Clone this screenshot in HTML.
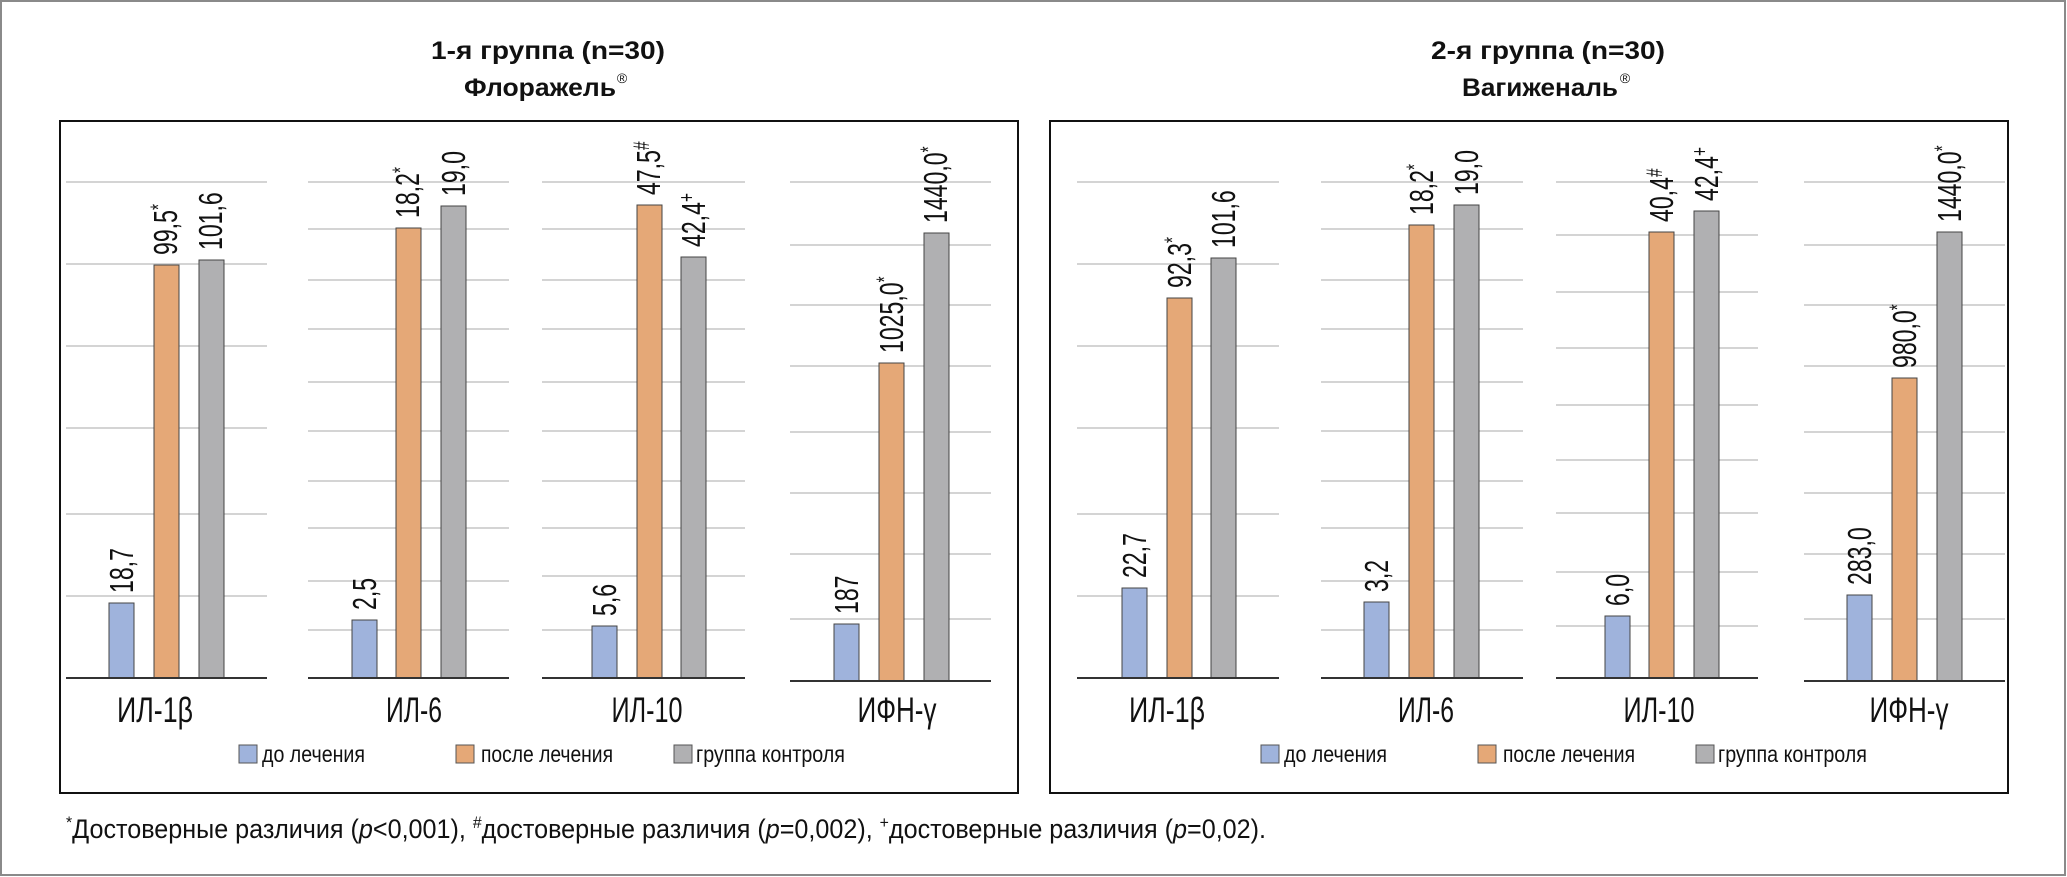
<!DOCTYPE html>
<html><head><meta charset="utf-8"><style>html,body{margin:0;padding:0;background:#fff}svg{display:block}</style></head><body>
<svg width="2067" height="877" viewBox="0 0 2067 877" xmlns="http://www.w3.org/2000/svg" font-family="'Liberation Sans', sans-serif">
<rect x="1" y="1" width="2064" height="874" fill="#fff" stroke="#8a8a8a" stroke-width="2"/>
<g font-weight="bold" font-size="25" fill="#111" text-anchor="middle">
<text x="548" y="59" textLength="234" lengthAdjust="spacingAndGlyphs">1-я группа (n=30)</text>
<text x="540" y="96" textLength="152" lengthAdjust="spacingAndGlyphs">Флоражель</text><text x="622" y="83" font-size="14" font-weight="normal">®</text>
<text x="1548" y="59" textLength="234" lengthAdjust="spacingAndGlyphs">2-я группа (n=30)</text>
<text x="1540" y="96" textLength="156" lengthAdjust="spacingAndGlyphs">Вагиженаль</text><text x="1625" y="83" font-size="14" font-weight="normal">®</text>
</g>
<rect x="60" y="121" width="958" height="672" fill="none" stroke="#111" stroke-width="2"/>
<rect x="1050" y="121" width="958" height="672" fill="none" stroke="#111" stroke-width="2"/>
<g stroke="#d4d4d4" stroke-width="2">
<path d="M66 182H267M66 264H267M66 346H267M66 428H267M66 514H267M66 596H267"/>
<path d="M308 182H509M308 229H509M308 280H509M308 329H509M308 382H509M308 431H509M308 481H509M308 528H509M308 581H509M308 630H509"/>
<path d="M542 182H745M542 229H745M542 280H745M542 329H745M542 382H745M542 431H745M542 481H745M542 528H745M542 576H745M542 630H745"/>
<path d="M790 182H991M790 245H991M790 305H991M790 366H991M790 432H991M790 493H991M790 554H991M790 619H991"/>
<path d="M1077 182H1279M1077 264H1279M1077 346H1279M1077 428H1279M1077 514H1279M1077 596H1279"/>
<path d="M1321 182H1523M1321 229H1523M1321 280H1523M1321 329H1523M1321 382H1523M1321 431H1523M1321 481H1523M1321 528H1523M1321 581H1523M1321 630H1523"/>
<path d="M1556 182H1758M1556 235H1758M1556 292H1758M1556 348H1758M1556 405H1758M1556 460H1758M1556 513H1758M1556 572H1758M1556 626H1758"/>
<path d="M1804 182H2005M1804 245H2005M1804 305H2005M1804 366H2005M1804 432H2005M1804 493H2005M1804 554H2005M1804 619H2005"/>
</g>
<g stroke="#444" stroke-width="1">
<g fill="#9fb3dc">
<rect x="109" y="603" width="25" height="75"/><rect x="352" y="620" width="25" height="58"/><rect x="592" y="626" width="25" height="52"/><rect x="834" y="624" width="25" height="57"/>
<rect x="1122" y="588" width="25" height="90"/><rect x="1364" y="602" width="25" height="76"/><rect x="1605" y="616" width="25" height="62"/><rect x="1847" y="595" width="25" height="86"/>
</g>
<g fill="#e5a877">
<rect x="154" y="265" width="25" height="413"/><rect x="396" y="228" width="25" height="450"/><rect x="637" y="205" width="25" height="473"/><rect x="879" y="363" width="25" height="318"/>
<rect x="1167" y="298" width="25" height="380"/><rect x="1409" y="225" width="25" height="453"/><rect x="1649" y="232" width="25" height="446"/><rect x="1892" y="378" width="25" height="303"/>
</g>
<g fill="#b0b0b2">
<rect x="199" y="260" width="25" height="418"/><rect x="441" y="206" width="25" height="472"/><rect x="681" y="257" width="25" height="421"/><rect x="924" y="233" width="25" height="448"/>
<rect x="1211" y="258" width="25" height="420"/><rect x="1454" y="205" width="25" height="473"/><rect x="1694" y="211" width="25" height="467"/><rect x="1937" y="232" width="25" height="449"/>
</g>
</g>
<g stroke="#333" stroke-width="2">
<path d="M66 678H267M308 678H509M542 678H745M790 681H991M1077 678H1279M1321 678H1523M1556 678H1758M1804 681H2005"/>
</g>
<g font-size="33" fill="#111">
<text transform="translate(133,593) rotate(-90) scale(0.7,1)">18,7</text>
<text transform="translate(177,255) rotate(-90) scale(0.7,1)">99,5<tspan font-size="22" dy="-11">*</tspan></text>
<text transform="translate(222,250) rotate(-90) scale(0.7,1)">101,6</text>
<text transform="translate(376,610) rotate(-90) scale(0.7,1)">2,5</text>
<text transform="translate(419,218) rotate(-90) scale(0.7,1)">18,2<tspan font-size="22" dy="-11">*</tspan></text>
<text transform="translate(465,196) rotate(-90) scale(0.7,1)">19,0</text>
<text transform="translate(616,616) rotate(-90) scale(0.7,1)">5,6</text>
<text transform="translate(660,195) rotate(-90) scale(0.7,1)">47,5<tspan font-size="22" dy="-11">#</tspan></text>
<text transform="translate(705,247) rotate(-90) scale(0.7,1)">42,4<tspan font-size="22" dy="-11">+</tspan></text>
<text transform="translate(858,614) rotate(-90) scale(0.7,1)">187</text>
<text transform="translate(903,353) rotate(-90) scale(0.7,1)">1025,0<tspan font-size="22" dy="-11">*</tspan></text>
<text transform="translate(947,223) rotate(-90) scale(0.7,1)">1440,0<tspan font-size="22" dy="-11">*</tspan></text>
<text transform="translate(1146,578) rotate(-90) scale(0.7,1)">22,7</text>
<text transform="translate(1191,288) rotate(-90) scale(0.7,1)">92,3<tspan font-size="22" dy="-11">*</tspan></text>
<text transform="translate(1235,248) rotate(-90) scale(0.7,1)">101,6</text>
<text transform="translate(1388,592) rotate(-90) scale(0.7,1)">3,2</text>
<text transform="translate(1433,215) rotate(-90) scale(0.7,1)">18,2<tspan font-size="22" dy="-11">*</tspan></text>
<text transform="translate(1478,195) rotate(-90) scale(0.7,1)">19,0</text>
<text transform="translate(1629,606) rotate(-90) scale(0.7,1)">6,0</text>
<text transform="translate(1673,222) rotate(-90) scale(0.7,1)">40,4<tspan font-size="22" dy="-11">#</tspan></text>
<text transform="translate(1718,201) rotate(-90) scale(0.7,1)">42,4<tspan font-size="22" dy="-11">+</tspan></text>
<text transform="translate(1871,585) rotate(-90) scale(0.7,1)">283,0</text>
<text transform="translate(1916,368) rotate(-90) scale(0.7,1)">980,0<tspan font-size="22" dy="-11">*</tspan></text>
<text transform="translate(1961,222) rotate(-90) scale(0.7,1)">1440,0<tspan font-size="22" dy="-11">*</tspan></text>
</g>
<g font-size="35" fill="#111" text-anchor="middle">
<text x="155" y="722" textLength="76" lengthAdjust="spacingAndGlyphs">ИЛ-1β</text>
<text x="414" y="722" textLength="56" lengthAdjust="spacingAndGlyphs">ИЛ-6</text>
<text x="647" y="722" textLength="71" lengthAdjust="spacingAndGlyphs">ИЛ-10</text>
<text x="897" y="722" textLength="79" lengthAdjust="spacingAndGlyphs">ИФН-γ</text>
<text x="1167" y="722" textLength="76" lengthAdjust="spacingAndGlyphs">ИЛ-1β</text>
<text x="1426" y="722" textLength="56" lengthAdjust="spacingAndGlyphs">ИЛ-6</text>
<text x="1659" y="722" textLength="71" lengthAdjust="spacingAndGlyphs">ИЛ-10</text>
<text x="1909" y="722" textLength="79" lengthAdjust="spacingAndGlyphs">ИФН-γ</text>
</g>
<g stroke="#555" stroke-width="1">
<rect x="239" y="745" width="18" height="18" fill="#9fb3dc"/><rect x="456" y="745" width="18" height="18" fill="#e5a877"/><rect x="674" y="745" width="18" height="18" fill="#b0b0b2"/>
<rect x="1261" y="745" width="18" height="18" fill="#9fb3dc"/><rect x="1478" y="745" width="18" height="18" fill="#e5a877"/><rect x="1696" y="745" width="18" height="18" fill="#b0b0b2"/>
</g>
<g font-size="23" fill="#111">
<text x="262" y="762" textLength="103" lengthAdjust="spacingAndGlyphs">до лечения</text>
<text x="481" y="762" textLength="132" lengthAdjust="spacingAndGlyphs">после лечения</text>
<text x="696" y="762" textLength="149" lengthAdjust="spacingAndGlyphs">группа контроля</text>
<text x="1284" y="762" textLength="103" lengthAdjust="spacingAndGlyphs">до лечения</text>
<text x="1503" y="762" textLength="132" lengthAdjust="spacingAndGlyphs">после лечения</text>
<text x="1718" y="762" textLength="149" lengthAdjust="spacingAndGlyphs">группа контроля</text>
</g>
<text x="66" y="838" font-size="27" fill="#111" textLength="1200" lengthAdjust="spacingAndGlyphs"><tspan font-size="17" dy="-10">*</tspan><tspan dy="10">Достоверные различия (</tspan><tspan font-style="italic">p</tspan>&lt;0,001), <tspan font-size="17" dy="-10">#</tspan><tspan dy="10">достоверные различия (</tspan><tspan font-style="italic">p</tspan>=0,002), <tspan font-size="17" dy="-10">+</tspan><tspan dy="10">достоверные различия (</tspan><tspan font-style="italic">p</tspan>=0,02).</text>
</svg>
</body></html>
